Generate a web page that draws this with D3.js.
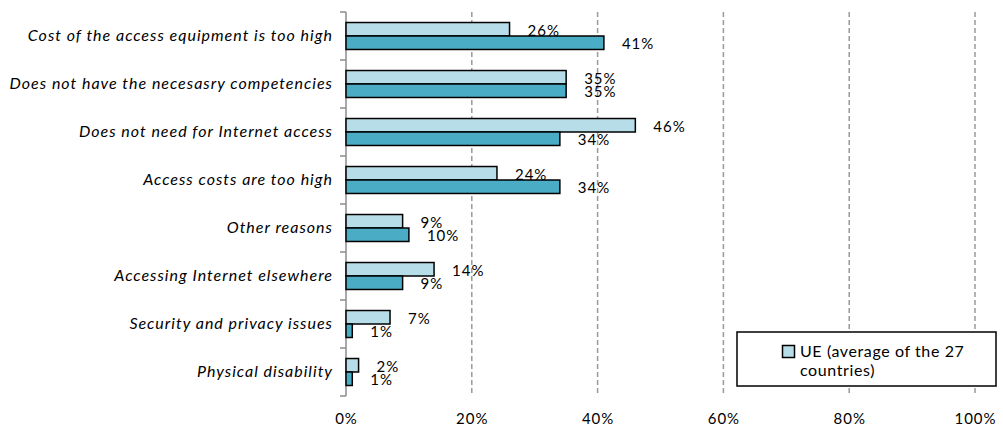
<!DOCTYPE html>
<html>
<head>
<meta charset="utf-8">
<script src="https://cdn.jsdelivr.net/npm/d3@7/dist/d3.min.js"></script>
<style>
  html, body { margin: 0; padding: 0; background: #fff; }
  svg { display: block; }
  text { font-family: Lato, "Open Sans", sans-serif; fill: #000; }
</style>
</head>
<body>
<svg id="chart" width="1003" height="430"></svg>
<script>
const categories = [
  "Cost of the access equipment is too high",
  "Does not have the necesasry competencies",
  "Does not need for Internet access",
  "Access costs are too high",
  "Other reasons",
  "Accessing Internet elsewhere",
  "Security and privacy issues",
  "Physical disability"
];
const ueValues = [26, 35, 46, 24, 9, 14, 7, 2];
const countryValues = [41, 35, 34, 34, 10, 9, 1, 1];
const xTicks = [0, 20, 40, 60, 80, 100];
const legendLines = ["UE (average of the 27", "countries)"];

const svg = d3.select("#chart");
const plotLeft = 346, plotRight = 975, plotTop = 12, plotBottom = 396;

const x = d3.scaleLinear().domain([0, 100]).range([plotLeft, plotRight]);
const y = d3.scaleBand().domain(categories).range([plotTop, plotBottom]).padding(0);
const yInner = d3.scaleBand().domain(["ue", "country"]).range([0, y.bandwidth()]).paddingInner(0).paddingOuter(0.78);

const colors = { ue: "#B7DEE8", country: "#4BACC6" };

// gridlines
svg.append("g").selectAll("line")
  .data(xTicks.filter(d => d > 0))
  .join("line")
  .attr("x1", d => x(d)).attr("x2", d => x(d))
  .attr("y1", plotTop).attr("y2", plotBottom)
  .attr("stroke", "#9a9a9a").attr("stroke-width", 1.5)
  .attr("stroke-dasharray", "5,3");

// y axis line and boundary ticks
svg.append("line")
  .attr("x1", plotLeft).attr("x2", plotLeft).attr("y1", plotTop).attr("y2", plotBottom)
  .attr("stroke", "#8c8c8c").attr("stroke-width", 1.5);
const bounds = categories.map(c => y(c)).concat([plotBottom]);
svg.append("g").selectAll("line").data(bounds).join("line")
  .attr("x1", plotLeft - 6).attr("x2", plotLeft).attr("y1", d => d).attr("y2", d => d)
  .attr("stroke", "#8c8c8c").attr("stroke-width", 1.5);

// category labels
const yAxis = svg.append("g").attr("transform", `translate(${plotLeft},0)`)
  .call(d3.axisLeft(y).tickSize(0).tickPadding(13));
yAxis.select(".domain").remove();
yAxis.selectAll("text")
  .style("font-family", "Lato, sans-serif")
  .style("font-style", "italic")
  .style("font-size", "16px")
  .style("letter-spacing", "1px")
  .attr("fill", "#000");

// x axis labels
const xAxis = svg.append("g").attr("transform", `translate(0,${plotBottom + 17})`)
  .call(d3.axisBottom(x).tickValues(xTicks).tickFormat(d => d + "%").tickSize(0).tickPadding(0));
xAxis.select(".domain").remove();
xAxis.selectAll("text")
  .style("font-family", "Lato, sans-serif")
  .style("font-size", "15px")
  .style("letter-spacing", "1px")
  .attr("dy", "0.72em")
  .attr("fill", "#000");

function drawSeries(key, values) {
  svg.append("g").selectAll("rect")
    .data(values)
    .join("rect")
    .attr("x", x(0))
    .attr("y", (d, i) => y(categories[i]) + yInner(key))
    .attr("width", d => x(d) - x(0))
    .attr("height", yInner.bandwidth())
    .attr("fill", colors[key])
    .attr("stroke", "#000").attr("stroke-width", 1.5);
  svg.append("g").selectAll("text")
    .data(values)
    .join("text")
    .attr("x", d => x(d) + 18)
    .attr("y", (d, i) => y(categories[i]) + yInner(key) + yInner.bandwidth() / 2 + 1)
    .attr("dy", "0.35em")
    .style("font-size", "15px")
    .style("letter-spacing", "1px")
    .text(d => d + "%");
}
drawSeries("ue", ueValues);
drawSeries("country", countryValues);

// legend
const lg = svg.append("g");
lg.append("rect").attr("x", 737).attr("y", 332).attr("width", 259).attr("height", 54)
  .attr("fill", "#fff").attr("stroke", "#000").attr("stroke-width", 1.5);
lg.append("rect").attr("x", 782.5).attr("y", 345.5).attr("width", 12).attr("height", 12)
  .attr("fill", colors.ue).attr("stroke", "#000").attr("stroke-width", 1.5);
lg.selectAll("text.l").data(legendLines).join("text")
  .attr("class", "l")
  .attr("x", 800).attr("y", (d, i) => 357 + i * 19)
  .style("font-size", "16px")
  .style("letter-spacing", "0.6px")
  .text(d => d);
</script>
</body>
</html>
